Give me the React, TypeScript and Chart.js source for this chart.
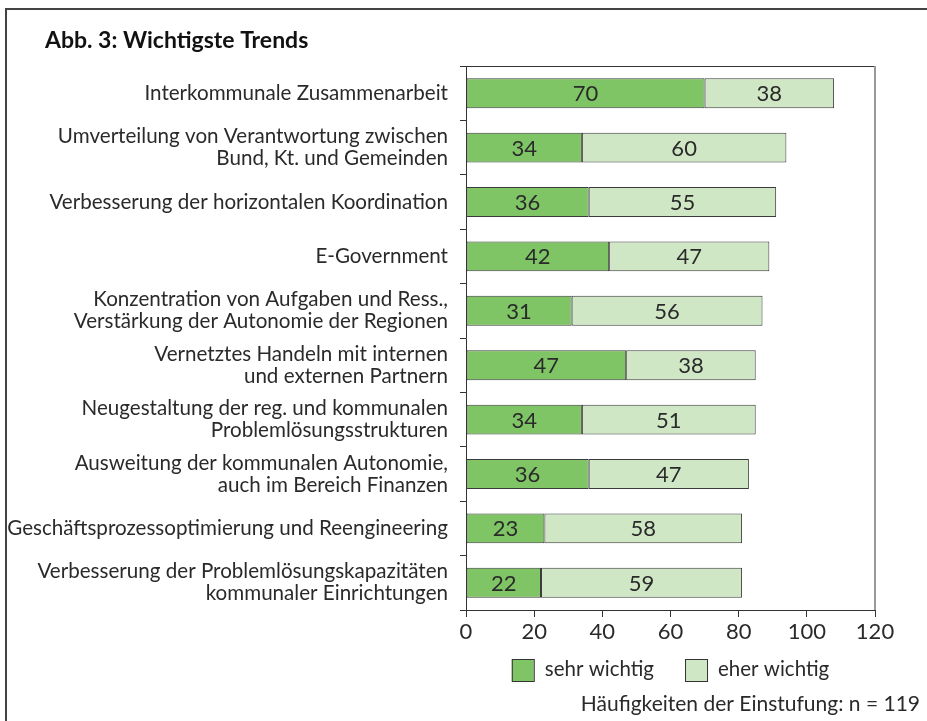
import { useEffect, useRef } from "react";
import { Chart, registerables } from "chart.js";

Chart.register(...registerables);

const categories: string[][] = [
  ["Interkommunale Zusammenarbeit"],
  ["Umverteilung von Verantwortung zwischen", "Bund, Kt. und Gemeinden"],
  ["Verbesserung der horizontalen Koordination"],
  ["E-Government"],
  ["Konzentration von Aufgaben und Ress.,", "Verstärkung der Autonomie der Regionen"],
  ["Vernetztes Handeln mit internen", "und externen Partnern"],
  ["Neugestaltung der reg. und kommunalen", "Problemlösungsstrukturen"],
  ["Ausweitung der kommunalen Autonomie,", "auch im Bereich Finanzen"],
  ["Geschäftsprozessoptimierung und Reengineering"],
  ["Verbesserung der Problemlösungskapazitäten", "kommunaler Einrichtungen"],
];
const sehrWichtig = [70, 34, 36, 42, 31, 47, 34, 36, 23, 22];
const eherWichtig = [38, 60, 55, 47, 56, 38, 51, 47, 58, 59];
const seriesNames = ["sehr wichtig", "eher wichtig"];
const xMin = 0;
const xMax = 120;
const xStep = 20;
const titleText = "Abb. 3: Wichtigste Trends";
const footnoteText = "Häufigkeiten der Einstufung: n = 119";

const FONT = "Lato";
const DARK = "#7fc565";
const LIGHT = "#cfe7c5";
const EDGE = "#3a3a3a";
const TEXT = "#2a2a2a";

const decorPlugin = {
  id: "decor",
  afterDatasetsDraw(chart: any) {
    const ctx = chart.ctx;
    ctx.save();
    ctx.font = `22px ${FONT}`;
    ctx.fillStyle = TEXT;
    ctx.textAlign = "center";
    ctx.textBaseline = "middle";
    chart.data.datasets.forEach((ds: any, di: number) => {
      const meta = chart.getDatasetMeta(di);
      meta.data.forEach((el: any, i: number) => {
        const p = el.getProps(["x", "y", "base"], true);
        ctx.fillText(String(ds.data[i]), (p.x + p.base) / 2, p.y + 1);
      });
    });
    ctx.restore();
  },
  afterDraw(chart: any) {
    const ctx = chart.ctx;
    const a = chart.chartArea;
    ctx.save();
    // outer frame
    ctx.strokeStyle = "#444";
    ctx.lineWidth = 2;
    ctx.beginPath();
    ctx.moveTo(6, chart.height);
    ctx.lineTo(6, 9);
    ctx.lineTo(chart.width, 9);
    ctx.stroke();
    // plot border top/right
    ctx.lineWidth = 1;
    ctx.strokeStyle = "#333";
    ctx.beginPath();
    ctx.moveTo(a.left, a.top + 0.5);
    ctx.lineTo(a.right, a.top + 0.5);
    ctx.stroke();
    ctx.strokeStyle = "#999";
    ctx.lineWidth = 2;
    ctx.beginPath();
    ctx.moveTo(a.right, a.top);
    ctx.lineTo(a.right, a.bottom);
    ctx.stroke();
    // title
    ctx.fillStyle = "#111";
    ctx.font = `bold 23px ${FONT}`;
    ctx.textAlign = "left";
    ctx.textBaseline = "alphabetic";
    ctx.fillText(titleText, 45, 48);
    // legend
    ctx.font = `20.5px ${FONT}`;
    const sq = 22;
    const gapText = 11;
    const gapItem = 31;
    const w1 = ctx.measureText(seriesNames[0]).width;
    const w2 = ctx.measureText(seriesNames[1]).width;
    const total = sq + gapText + w1 + gapItem + sq + gapText + w2;
    let x = (a.left + a.right) / 2 - total / 2;
    const yTop = 659;
    const colors = [DARK, LIGHT];
    [w1, w2].forEach((w, i) => {
      ctx.fillStyle = colors[i];
      ctx.fillRect(x, yTop, sq, sq);
      ctx.strokeStyle = "#333";
      ctx.lineWidth = 1;
      ctx.strokeRect(x + 0.5, yTop + 0.5, sq, sq);
      ctx.fillStyle = TEXT;
      ctx.textBaseline = "middle";
      ctx.fillText(seriesNames[i], x + sq + gapText, yTop + sq / 2 - 1);
      x += sq + gapText + w + gapItem;
    });
    // footnote
    ctx.textAlign = "right";
    ctx.textBaseline = "alphabetic";
    ctx.font = `21px ${FONT}`;
    ctx.fillText(footnoteText, 920, 711);
    ctx.restore();
  },
};

export default function App() {
  const ref = useRef<HTMLCanvasElement | null>(null);
  useEffect(() => {
    if (!ref.current) return;
    const chart = new Chart(ref.current, {
      type: "bar",
      data: {
        labels: categories,
        datasets: [
          {
            label: seriesNames[0],
            data: sehrWichtig,
            backgroundColor: DARK,
            borderColor: EDGE,
            borderWidth: 1,
            borderSkipped: false,
          },
          {
            label: seriesNames[1],
            data: eherWichtig,
            backgroundColor: LIGHT,
            borderColor: EDGE,
            borderWidth: 1,
            borderSkipped: false,
          },
        ],
      },
      options: {
        indexAxis: "y",
        animation: false,
        responsive: true,
        maintainAspectRatio: false,
        layout: { padding: { left: 0, top: 66, right: 52, bottom: 80 } },
        datasets: { bar: { categoryPercentage: 1, barPercentage: 0.55 } },
        plugins: {
          legend: { display: false },
          title: { display: false },
          tooltip: { enabled: false },
        },
        scales: {
          x: {
            stacked: true,
            min: xMin,
            max: xMax,
            ticks: {
              stepSize: xStep,
              font: { family: FONT, size: 22 },
              color: TEXT,
              padding: 2,
            },
            grid: { drawOnChartArea: false, tickLength: 7, color: "#333" },
            border: { color: "#333", width: 1 },
            afterFit(scale: any) {
              scale.height = 31;
            },
          },
          y: {
            stacked: true,
            ticks: {
              font: { family: FONT, size: 20.6, lineHeight: 1.07 },
              color: TEXT,
              padding: 12,
              autoSkip: false,
            },
            grid: { drawOnChartArea: false, tickLength: 6, color: "#333", offset: true },
            border: { color: "#333", width: 1 },
            afterFit(scale: any) {
              scale.width = 466;
            },
          },
        },
      },
      plugins: [decorPlugin],
    });
    return () => chart.destroy();
  }, []);
  return (
    <div style={{ position: "absolute", left: 0, top: 0, width: 927, height: 721, background: "#fff" }}>
      <canvas ref={ref} />
    </div>
  );
}
